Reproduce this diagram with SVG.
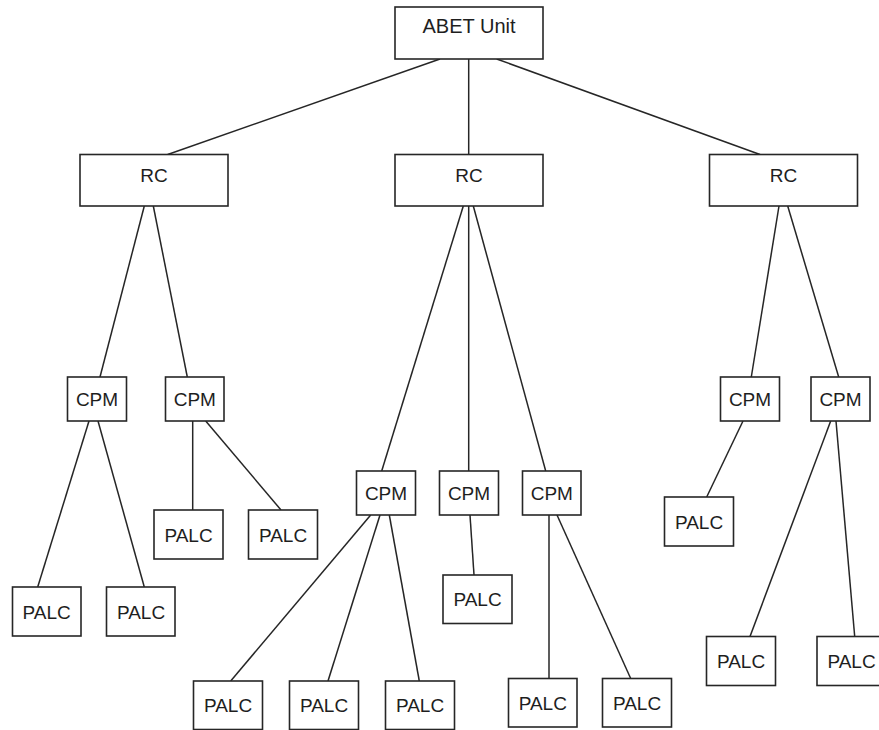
<svg xmlns="http://www.w3.org/2000/svg" width="879" height="730" viewBox="0 0 879 730">
<style>
  rect.box { fill: #ffffff; stroke: #262626; stroke-width: 1.6; }
  text { font-family: "Liberation Sans", Arial, sans-serif; font-size: 19px; fill: #1e1e1e; text-anchor: middle; }
  text.top { font-size: 20px; }
  #connectors line { stroke: #262626; stroke-width: 1.5; }
</style>
<rect x="0" y="0" width="879" height="730" fill="#ffffff"/>
<g id="connectors">
  <line x1="440" y1="59" x2="167.7" y2="154.5"/>
  <line x1="468.7" y1="59" x2="468.7" y2="154.5"/>
  <line x1="496.7" y1="59" x2="760" y2="154.5"/>
  <line x1="144.3" y1="206" x2="100" y2="377"/>
  <line x1="153.3" y1="206" x2="187.3" y2="377"/>
  <line x1="463.3" y1="206" x2="381.7" y2="471"/>
  <line x1="468.7" y1="206" x2="468.7" y2="471"/>
  <line x1="473.3" y1="206" x2="545.7" y2="471"/>
  <line x1="779" y1="206" x2="751.3" y2="377"/>
  <line x1="787.7" y1="206" x2="838.7" y2="377"/>
  <line x1="89" y1="421" x2="37.7" y2="587"/>
  <line x1="98" y1="421" x2="144.3" y2="587"/>
  <line x1="192.7" y1="421" x2="192.7" y2="510"/>
  <line x1="205.7" y1="421" x2="281" y2="510"/>
  <line x1="370.7" y1="515" x2="230.7" y2="681"/>
  <line x1="380" y1="515" x2="328" y2="681"/>
  <line x1="389.3" y1="515" x2="419.3" y2="681"/>
  <line x1="470" y1="515" x2="474" y2="575"/>
  <line x1="549" y1="515" x2="549" y2="678.5"/>
  <line x1="557" y1="515" x2="630.7" y2="678.5"/>
  <line x1="743" y1="421" x2="706.7" y2="497"/>
  <line x1="830.7" y1="421" x2="750" y2="636.5"/>
  <line x1="836" y1="421" x2="854.7" y2="636.5"/>
</g>
<g id="abet"><rect class="box" x="395" y="7" width="148" height="52"/><text class="top" x="469" y="33">ABET Unit</text></g>
<g id="rc1"><rect class="box" x="80" y="154.5" width="148" height="51.5"/><text x="154" y="181.5">RC</text></g>
<g id="rc2"><rect class="box" x="395" y="154.5" width="148" height="51.5"/><text x="469" y="181.5">RC</text></g>
<g id="rc3"><rect class="box" x="709.5" y="154.5" width="148" height="51.5"/><text x="783.5" y="181.5">RC</text></g>
<g id="cpm-l1"><rect class="box" x="67.5" y="377" width="59" height="44"/><text x="97" y="406">CPM</text></g>
<g id="cpm-l2"><rect class="box" x="165.5" y="377" width="58.5" height="44"/><text x="194.8" y="406">CPM</text></g>
<g id="palc-l1a"><rect class="box" x="12.5" y="587" width="68.5" height="49"/><text x="46.7" y="618.5">PALC</text></g>
<g id="palc-l1b"><rect class="box" x="106.5" y="587" width="68.5" height="49"/><text x="141" y="618.5">PALC</text></g>
<g id="palc-l2a"><rect class="box" x="154" y="510" width="69" height="49"/><text x="188.5" y="541.5">PALC</text></g>
<g id="palc-l2b"><rect class="box" x="248.5" y="510" width="69" height="49"/><text x="283" y="541.5">PALC</text></g>
<g id="cpm-m1"><rect class="box" x="356.5" y="471" width="59" height="44"/><text x="386" y="500">CPM</text></g>
<g id="cpm-m2"><rect class="box" x="439.5" y="471" width="59" height="44"/><text x="469" y="500">CPM</text></g>
<g id="cpm-m3"><rect class="box" x="522.5" y="471" width="58.5" height="44"/><text x="551.8" y="500">CPM</text></g>
<g id="palc-m1a"><rect class="box" x="193.5" y="681" width="69" height="48.5"/><text x="228" y="712">PALC</text></g>
<g id="palc-m1b"><rect class="box" x="289.5" y="681" width="69" height="48.5"/><text x="324" y="712">PALC</text></g>
<g id="palc-m1c"><rect class="box" x="385.5" y="681" width="69" height="48.5"/><text x="420" y="712">PALC</text></g>
<g id="palc-m2"><rect class="box" x="443" y="575" width="69" height="48.5"/><text x="477.5" y="606">PALC</text></g>
<g id="palc-m3a"><rect class="box" x="508.5" y="678.5" width="68.5" height="48.5"/><text x="542.8" y="709.5">PALC</text></g>
<g id="palc-m3b"><rect class="box" x="602.5" y="678.5" width="69" height="48.5"/><text x="637" y="709.5">PALC</text></g>
<g id="cpm-r1"><rect class="box" x="720.5" y="377" width="59" height="44"/><text x="750" y="406">CPM</text></g>
<g id="cpm-r2"><rect class="box" x="811" y="377" width="59" height="44"/><text x="840.5" y="406">CPM</text></g>
<g id="palc-r1"><rect class="box" x="664.5" y="497" width="69" height="49"/><text x="699" y="528.5">PALC</text></g>
<g id="palc-r2a"><rect class="box" x="706.5" y="636.5" width="69" height="49"/><text x="741" y="668">PALC</text></g>
<g id="palc-r2b"><rect class="box" x="817" y="636.5" width="69" height="49"/><text x="851.5" y="668">PALC</text></g>
</svg>
